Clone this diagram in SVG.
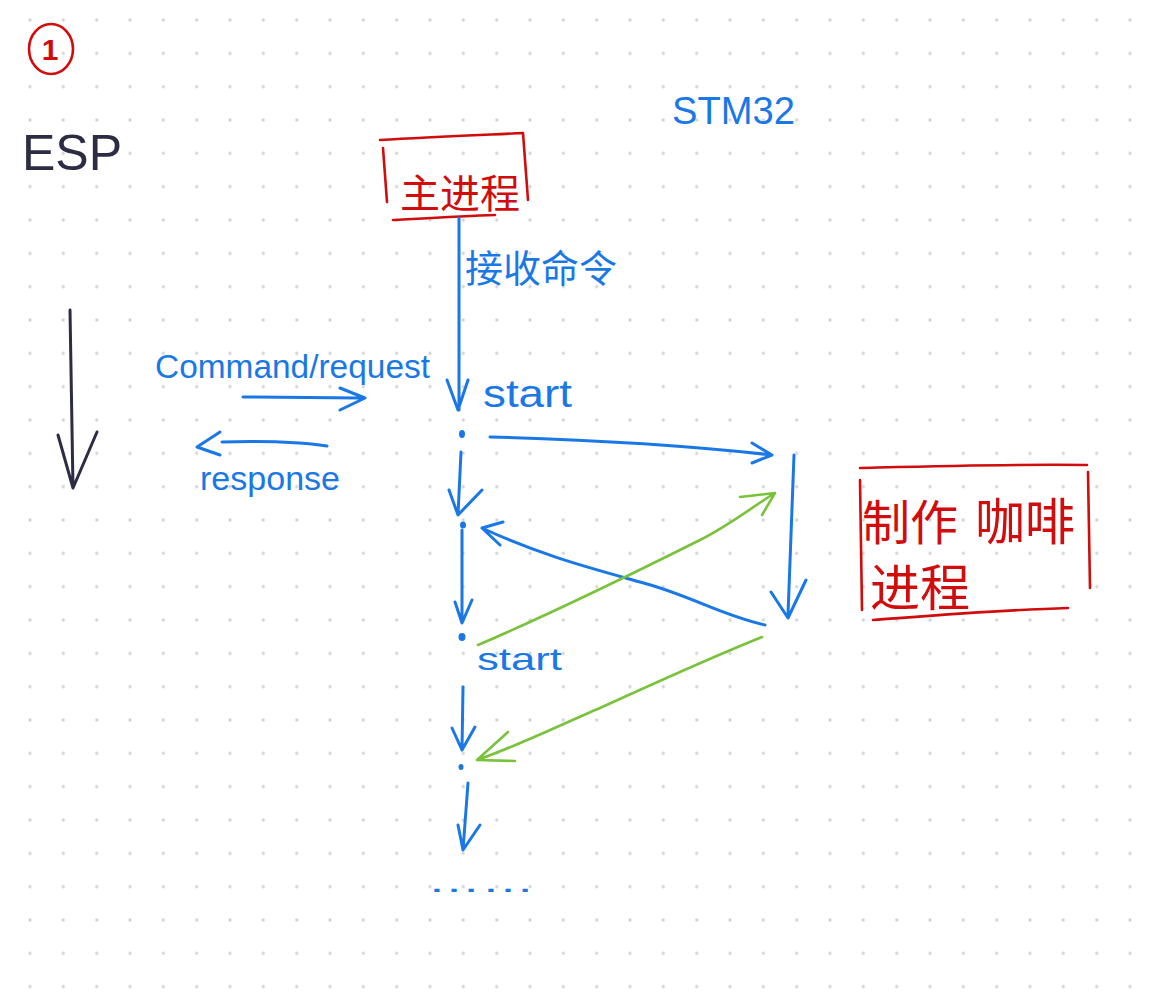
<svg xmlns="http://www.w3.org/2000/svg" width="1152" height="1000" viewBox="0 0 1152 1000">
<defs>
<pattern id="dots" patternUnits="userSpaceOnUse" x="13.333" y="3.333" width="33.333" height="33.333">
<circle cx="16.667" cy="16.667" r="1.6" fill="#d2d2d2"/>
</pattern>
<style>
.blue{stroke:#1a78e6;stroke-width:3;fill:none;stroke-linecap:round;stroke-linejoin:round}
.green{stroke:#79c23c;stroke-width:2.6;fill:none;stroke-linecap:round;stroke-linejoin:round}
.red{stroke:#d00c0c;stroke-width:2.6;fill:none;stroke-linecap:round;stroke-linejoin:round}
.dark{stroke:#2c2d44;stroke-width:3;fill:none;stroke-linecap:round;stroke-linejoin:round}
.tb{fill:#1a78e6;font-family:"Liberation Sans","Noto Sans CJK SC",sans-serif}
.tr{fill:#d00c0c;font-family:"Liberation Sans","Noto Sans CJK SC",sans-serif}
.td{fill:#2c2d44;font-family:"Liberation Sans",sans-serif}
.dot{fill:#1a78e6}
</style>
</defs>
<rect width="1152" height="1000" fill="#ffffff"/>
<rect width="1152" height="1000" fill="url(#dots)"/>

<g id="label-1">
<ellipse cx="51" cy="49" rx="22" ry="25" class="red" stroke-width="3"/>
<text x="50" y="60" class="tr" font-size="30" font-weight="bold" text-anchor="middle">1</text>
</g>

<g id="esp">
<text x="22" y="170" class="td" font-size="50" textLength="100" lengthAdjust="spacing">ESP</text>
</g>

<g id="stm32">
<text x="672" y="124" class="tb" font-size="38" textLength="123" lengthAdjust="spacingAndGlyphs">STM32</text>
</g>

<g id="main-process">
<path class="red" d="M380,140 C430,137 480,135 523,133 L528,200"/>
<path class="red" d="M383,148 L387,202"/>
<path class="red" d="M393,220 C430,218 465,216 495,215"/>
<text x="400" y="208" class="tr" font-size="40">主进程</text>
</g>

<g id="coffee-process">
<path class="red" d="M860,468 C940,466 1010,464 1087,465"/>
<path class="red" d="M860,480 L862,610"/>
<path class="red" d="M1088,472 L1090,588"/>
<path class="red" d="M873,620 C940,615 1000,610 1068,608"/>
<text x="862" y="540" class="tr" font-size="48">制作</text>
<text x="975" y="540" class="tr" font-size="50">咖啡</text>
<text x="870" y="606" class="tr" font-size="50">进程</text>
</g>

<g id="esp-time-arrow">
<path class="dark" d="M70,310 L73,488 M58,435 L73,488 L97,432"/>
</g>

<g id="legend">
<text x="155" y="378" class="tb" font-size="33" textLength="275" lengthAdjust="spacingAndGlyphs">Command/request</text>
<path class="blue" d="M243,397 L360,398 M340,388 L365,398 L340,410"/>
<path class="blue" d="M327,446 C300,442 260,441 222,442 M220,432 L197,447 L220,455"/>
<text x="200" y="490" class="tb" font-size="34" textLength="140" lengthAdjust="spacingAndGlyphs">response</text>
</g>

<g id="timeline-points">
<ellipse cx="462" cy="434" rx="3" ry="4" class="dot"/>
<ellipse cx="463" cy="525" rx="3" ry="3.5" class="dot"/>
<ellipse cx="462" cy="637" rx="3.5" ry="4" class="dot"/>
<ellipse cx="461" cy="767" rx="2.5" ry="3" class="dot"/>
</g>

<g id="labels">
<text x="465" y="282" class="tb" font-size="38">接收命令</text>
<text x="483" y="407" class="tb" font-size="38" textLength="89" lengthAdjust="spacingAndGlyphs">start</text>
<text x="477" y="670" class="tb" font-size="32" textLength="85" lengthAdjust="spacingAndGlyphs">start</text>
<text x="427" y="892" class="tb" font-size="30" textLength="108" lengthAdjust="spacingAndGlyphs">……</text>
</g>

<g id="connectors">
<path class="blue" d="M459,218 L459,410 M447,380 L458,410 L468,380"/>
<path class="blue" d="M490,437 C600,440 700,447 772,455 M752,443 L772,455 L752,463"/>
<path class="blue" d="M794,455 L788,615 M771,592 L788,618 L806,580"/>
<path class="blue" d="M461,452 L458,515 M449,490 L458,515 L482,490"/>
<path class="blue" d="M462,530 L462,620 M455,602 L462,623 L472,600"/>
<path class="blue" d="M463,687 L462,750 M452,728 L462,750 L475,727"/>
<path class="blue" d="M468,783 L463,850 M458,825 L463,850 L480,825"/>
<path class="blue" stroke-width="3.4" d="M765,625 C720,615 690,595 640,582 C590,568 540,555 482,528 M503,522 L482,528 L500,545"/>
<path class="green" d="M478,645 C560,610 640,570 700,540 C730,525 755,505 775,493 M740,497 L775,493 L762,515"/>
<path class="green" d="M762,637 C700,662 640,690 600,708 C560,725 520,745 477,760 M508,732 L477,760 L515,761"/>
</g>
</svg>
